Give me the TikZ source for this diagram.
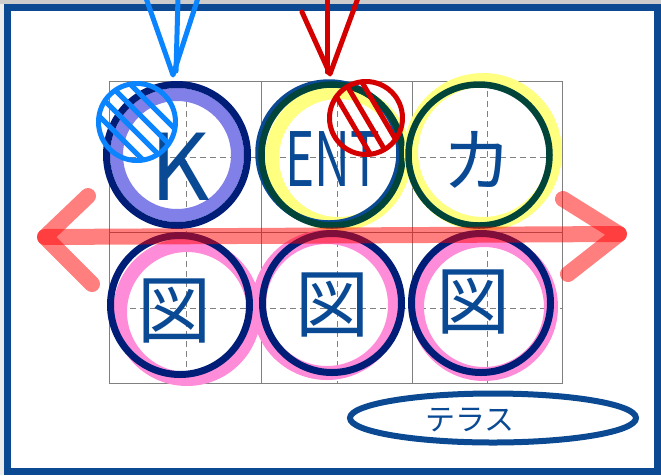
\documentclass[tikz,border=0pt]{standalone}
\usepackage{fontspec}
\newfontfamily\jp{Noto Sans CJK JP}
\usetikzlibrary{shapes.geometric}
\definecolor{frameblue}{HTML}{0B4A92}
\definecolor{inkblue}{HTML}{0A4A94}
\definecolor{navy}{HTML}{001E78}
\definecolor{dgreen}{HTML}{00443A}
\definecolor{lilac}{HTML}{8080E8}
\definecolor{hiyellow}{HTML}{FFFF80}
\definecolor{hipink}{HTML}{FF8CD8}
\definecolor{skyblue}{HTML}{0A84FF}
\definecolor{penred}{HTML}{D40000}
\definecolor{gridgray}{HTML}{808080}
\begin{document}
\begin{tikzpicture}[x=1pt,y=-1pt,
  ringnode/.style={circle, inner sep=0pt, minimum size=#1},
  navyring/.style={ringnode=#1, draw=navy, line width=7pt},
  greenring/.style={ringnode=#1, draw=dgreen, line width=6.5pt},
  yellowband/.style={ringnode=#1, draw=hiyellow, line width=14pt},
  pinkband/.style={ringnode=#1, draw=hipink, line width=14pt},
  inktext/.style={inkblue, inner sep=0pt, font=\jp\fontsize{#1}{#1}\selectfont},
  gridsolid/.style={gridgray, line width=0.8pt},
  griddash/.style={gridgray, line width=0.8pt, dash pattern=on 6pt off 4pt},
  redmark/.style={red, draw opacity=0.5, line width=16pt, line cap=round, line join=round},
  penline/.style={line width=5pt, line cap=round, line join=round},
]
\useasboundingbox (0,0) rectangle (661,475);
\fill[white] (0,0) rectangle (661,475);
\fill[gray!40] (0,0) rectangle (661,4);
\fill[gray!15] (0,4) rectangle (4,475);
\draw[frameblue, line width=7pt] (7.5,7.5) rectangle (657.5,471.5);

% grid
\draw[gridsolid] (109.5,81) rectangle (562.5,383);
\draw[gridsolid] (261,81) -- (261,383) (412,81) -- (412,383) (109.5,232) -- (562.5,232);
\foreach \x in {186,337,487} \draw[griddash] (\x,81) -- (\x,383);
\foreach \y in {157,308} \draw[griddash] (109.5,\y) -- (562.5,\y);

% top row
\node[ringnode=121pt, draw=lilac, line width=13pt] (p1) at (177,155) {};
\node[navyring=141pt] (c1) at (177,155) {};
\node[yellowband=132pt] (y2) at (338,158) {};
\node[ringnode=141pt, draw=inkblue, line width=6.5pt] (b2) at (329,153) {};
\node[greenring=141pt] (c2) at (332,155) {};
\node[yellowband=144pt] (y3) at (483,152) {};
\node[greenring=141pt] (c3) at (479,155) {};

% bottom row
\node[pinkband=134pt] (q1) at (187,312) {};
\node[pinkband=136pt] (q2) at (327,305) {};
\node[pinkband=134pt] (q3) at (484,307) {};
\node[navyring=139pt] (d1) at (180,305) {};
\node[navyring=139pt] (d2) at (332,303) {};
\node[navyring=139pt] (d3) at (481,303) {};

% texts
\node[inktext=92] (t1) at (180,167) {K};
\node[inktext=75, xscale=0.66] (t2) at (333,159) {ENT};
\node[inktext=70] (t3) at (477,160) {カ};
\node[inktext=74] (t4) at (174,311) {図};
\node[inktext=74] (t5) at (332,305) {図};
\node[inktext=74] (t6) at (473,302) {図};

% terrace ellipse
\node[ellipse, draw=frameblue, line width=6pt, minimum width=286pt, minimum height=49pt, inner sep=0pt] (el) at (493,418) {};
\node[inktext=30] (tl) at (470,420) {テラス};

% red double arrow
\coordinate (la) at (45,237);
\coordinate (ra) at (619,234);
\coordinate (lu) at (88,196);
\coordinate (ld) at (92,284);
\coordinate (ru) at (563,199);
\coordinate (rd) at (568,274);
\draw[redmark] (la) -- (ra);
\draw[redmark] (lu) -- (la) -- (ld);
\draw[redmark] (ru) -- (ra) -- (rd);

% blue arrow and hatched circle
\coordinate (bs) at (178,-2);
\coordinate (bt) at (176,71);
\coordinate (bl) at (146,-2);
\coordinate (bv) at (173,75);
\coordinate (br) at (198,-2);
\draw[skyblue, penline] (bs) -- (bt);
\draw[skyblue, penline] (bl) -- (bv) -- (br);
\node[circle, inner sep=0pt, minimum size=77pt] (hb) at (137,122) {};
\begin{scope}
  \clip (hb.center) circle[radius=38.5pt];
  \foreach \o in {-32,-11,10,31}
    \draw[skyblue, line width=5pt, shift={(hb.center)}] ({\o-60},-60) -- ({\o+60},60);
\end{scope}
\draw[skyblue, line width=5pt] (hb.center) circle[radius=38.5pt];

% red arrow and hatched circle
\coordinate (rs) at (327,-2);
\coordinate (rt) at (327,72);
\coordinate (rl) at (302,12);
\coordinate (rv) at (330,74);
\coordinate (rr) at (358,-2);
\draw[penred, penline] (rs) -- (rt);
\draw[penred, penline] (rl) -- (rv) -- (rr);
\node[circle, inner sep=0pt, minimum size=73pt] (hr) at (366,118) {};
\begin{scope}
  \clip (hr.center) circle[radius=36.5pt];
  \foreach \o in {-17,0,17}
    \draw[penred, line width=5pt, shift={(hr.center)}] ({\o-30},-51) -- ({\o+30},51);
\end{scope}
\draw[penred, line width=5pt] (hr.center) circle[radius=36.5pt];
\end{tikzpicture}
\end{document}
